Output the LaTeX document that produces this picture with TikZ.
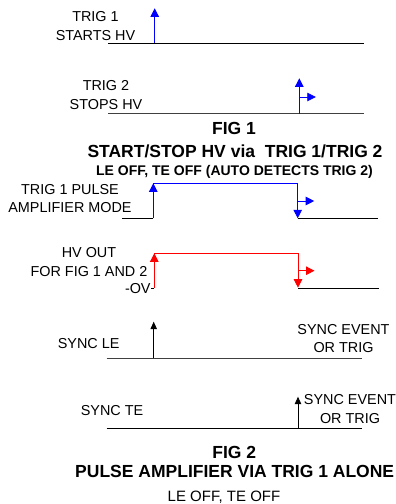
\documentclass[tikz,border=0pt]{standalone}
\usepackage{fontspec}
\setmainfont{Liberation Sans}
\usetikzlibrary{arrows.meta}
\definecolor{trigblue}{HTML}{0000FF}
\definecolor{hvred}{HTML}{FF0000}
\newcommand{\lblfont}{\fontsize{14.4}{18.7}\selectfont}
\newcommand{\figfont}{\fontsize{17.5}{21}\selectfont\bfseries}
\newcommand{\notefont}{\fontsize{14}{17}\selectfont\bfseries}

\begin{document}
\begin{tikzpicture}[x=1pt, y=-1pt, line width=0.8pt,
    lbl/.style={inner sep=0pt, align=center, anchor=south, font=\lblfont},
    ttl/.style={inner sep=0pt, anchor=base},
    edge/.style={-{Triangle[width=8.5pt,length=8.5pt]}},
    sedge/.style={-{Triangle[width=6.5pt,length=7.5pt]}}]
  \useasboundingbox (0,0) rectangle (396,504);

  %% FIG 1: trigger 1 starts HV
  \node[lbl] (t1lbl) at (95.5,40.7) {TRIG 1\\STARTS HV};
  \draw (108,43.3) -- (364,43.3);
  \draw[edge, trigblue] (154.7,43.3) -- (154.7,8.3);

  %% FIG 1: trigger 2 stops HV
  \node[lbl] (t2lbl) at (106,110) {TRIG 2\\STOPS HV};
  \draw[black!75] (108,113.7) -- (364,113.7);
  \draw[edge, trigblue] (299.3,113.7) -- (299.3,78.3);

  %% Stop markers (small right arrows)
  \foreach \x/\y/\c in {299.3/97/trigblue, 297.7/201/trigblue, 298/270.7/hvred} {
    \draw[edge, \c] (\x,\y) -- (\x+16.5,\y);
  }

  %% Caption of fig 1
  \node[ttl, font=\figfont] (fig1) at (234,134) {FIG 1};
  \node[ttl, font=\figfont] (fig1title) at (235,157.3)
    {START/STOP HV via\ \ TRIG 1/TRIG 2};
  \node[ttl, font=\notefont] (fig1note) at (234.5,175)
    {LE OFF, TE OFF (AUTO DETECTS TRIG 2)};

  %% FIG 2: pulse amplifier mode
  \node[lbl] (pulselbl) at (70,213.3) {TRIG 1 PULSE\\AMPLIFIER MODE};
  \draw (122,218.3) -- (153.3,218.3);
  \draw[edge, trigblue] (153.3,218.3) -- (153.3,183.3);
  \draw[edge, trigblue] (153.3,183.3) -- (297.7,183.3) -- (297.7,218.3);
  \draw (297.7,218.3) -- (378,218.3);

  %% HV output
  \node[lbl] (hvlbl) at (89,276.7) {HV OUT\\FOR FIG 1 AND 2};
  \node[ttl, anchor=base east, font=\lblfont] (zerov) at (151,293.3) {-OV};
  \draw (zerov.east |- 0,288.3) -- (154.3,288.3);
  \draw[edge, hvred] (154.3,288.3) -- (154.3,253.3);
  \draw[edge, hvred] (154.3,253.3) -- (298,253.3) -- (298,287.7);
  \draw (298,288.3) -- (379,288.3);

  %% Sync on leading edge
  \node[ttl, font=\lblfont] (synclelbl) at (88.7,348.3) {SYNC LE};
  \draw[black!75] (106.7,358.3) -- (362,358.3);
  \draw[sedge] (153.7,358.3) -- (153.7,321.7);
  \node[lbl] (syncle) at (343.5,353.3) {SYNC EVENT\\OR TRIG};

  %% Sync on trailing edge
  \node[ttl, font=\lblfont] (synctelbl) at (112,415) {SYNC TE};
  \draw (106.7,428.3) -- (362,428.3);
  \draw[sedge] (298,428.3) -- (298,396.7);
  \node[lbl] (syncte) at (350,424) {SYNC EVENT\\OR TRIG};

  %% Caption of fig 2
  \node[ttl, font=\figfont] (fig2) at (234.3,458.6) {FIG 2};
  \node[ttl, font=\figfont] (fig2title) at (234.7,477.3)
    {PULSE AMPLIFIER VIA TRIG 1 ALONE};
  \node[ttl, font=\fontsize{15}{18}\selectfont] (fig2note) at (224,501.7)
    {LE OFF, TE OFF};
\end{tikzpicture}
\end{document}
